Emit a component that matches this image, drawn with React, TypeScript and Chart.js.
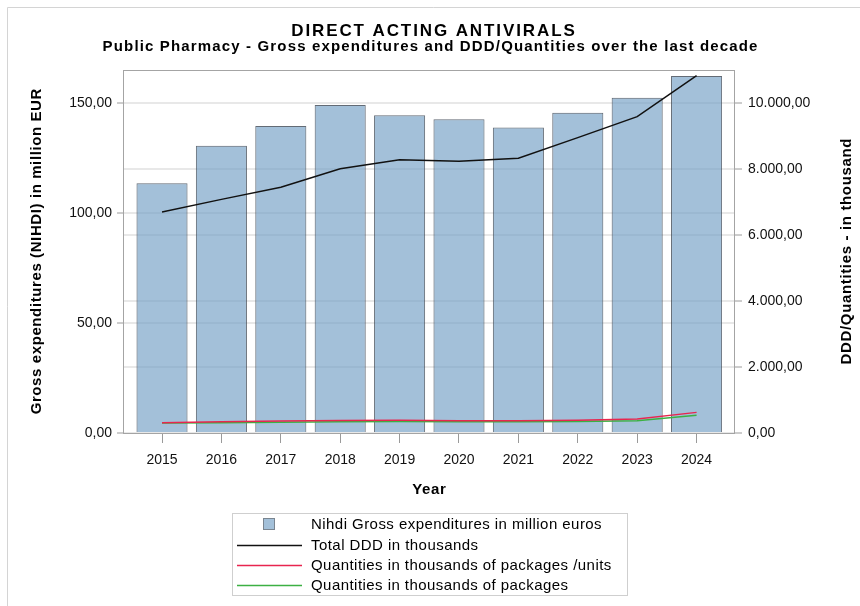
import React, { useEffect, useRef } from 'react';
import { Chart, registerables } from 'chart.js';

Chart.register(...registerables);

// ---------- data ----------
const years = [2015, 2016, 2017, 2018, 2019, 2020, 2021, 2022, 2023, 2024];
const grossExpenditures = [113.5, 130.6, 139.5, 149.1, 144.4, 142.6, 138.9, 145.6, 152.4, 162.3];
const totalDDD = [6700, 7080, 7445, 8010, 8280, 8235, 8325, 8950, 9585, 10830];
const qtyPackagesUnits = [310, 340, 360, 380, 385, 375, 375, 390, 425, 625];
const qtyPackages = [300, 310, 325, 340, 345, 340, 340, 350, 370, 535];
const leftTicks = [0, 50, 100, 150];
const rightTicks = [0, 2000, 4000, 6000, 8000, 10000];
const seriesLabels = [
  'Nihdi Gross expenditures in million euros',
  'Total DDD in thousands',
  'Quantities in thousands of packages /units',
  'Quantities in thousands of packages',
];
const titleText = 'DIRECT ACTING ANTIVIRALS';
const subtitleText = 'Public Pharmacy - Gross expenditures and DDD/Quantities over the last decade';
const xTitle = 'Year';
const leftTitle = 'Gross expenditures (NIHDI) in million EUR';
const rightTitle = 'DDD/Quantities - in thousand';

const FONT = '"Liberation Sans", Arial, Helvetica, sans-serif';
const BAR_FILL = 'rgba(110,155,195,0.63)';
const BAR_BORDER = 'rgba(60,70,82,0.8)';
const BLACK = '#111111';
const RED = '#e8254f';
const GREEN = '#3cb043';

function fmt(v: number): string {
  const fixed = Math.abs(v).toFixed(2);
  const parts = fixed.split('.');
  const intPart = parts[0].replace(/\B(?=(\d{3})+(?!\d))/g, '.');
  return (v < 0 ? '-' : '') + intPart + ',' + parts[1];
}

function drawText(ctx: CanvasRenderingContext2D, text: string, x: number, y: number, font: string, spacing: number, align: CanvasTextAlign, rotate = 0) {
  ctx.save();
  ctx.font = font;
  (ctx as any).letterSpacing = spacing + 'px';
  ctx.fillStyle = '#000';
  ctx.textAlign = align;
  ctx.textBaseline = 'middle';
  ctx.translate(x, y);
  if (rotate) ctx.rotate(rotate);
  ctx.fillText(text, align === 'center' ? spacing / 2 : 0, 0);
  ctx.restore();
}

const decorPlugin = {
  id: 'decor',
  beforeDraw(chart: any) {
    const ctx: CanvasRenderingContext2D = chart.ctx;
    ctx.save();
    ctx.fillStyle = '#ffffff';
    ctx.fillRect(0, 0, chart.width, chart.height);
    ctx.strokeStyle = '#d4d4d4';
    ctx.lineWidth = 1;
    ctx.beginPath();
    ctx.moveTo(7.5, chart.height);
    ctx.lineTo(7.5, 7.5);
    ctx.lineTo(chart.width, 7.5);
    ctx.stroke();
    ctx.restore();
  },
  afterDraw(chart: any) {
    const ctx: CanvasRenderingContext2D = chart.ctx;
    const a = chart.chartArea;
    // plot frame
    ctx.save();
    ctx.strokeStyle = '#a4a4a4';
    ctx.lineWidth = 1;
    ctx.strokeRect(Math.round(a.left) - 0.5, Math.round(a.top) + 0.5, Math.round(a.right - a.left) + 1, Math.round(a.bottom - a.top));
    ctx.restore();

    const cx = chart.width / 2;
    const cy = (a.top + a.bottom) / 2;
    drawText(ctx, titleText, cx + 3, 31, 'bold 17px ' + FONT, 1.9, 'center');
    drawText(ctx, subtitleText, cx, 47, 'bold 15px ' + FONT, 1.15, 'center');
    drawText(ctx, leftTitle, 37, cy, 'bold 15px ' + FONT, 0.6, 'center', -Math.PI / 2);
    drawText(ctx, rightTitle, 847, cy, 'bold 15px ' + FONT, 0.65, 'center', -Math.PI / 2);
    drawText(ctx, xTitle, (a.left + a.right) / 2, 490, 'bold 15px ' + FONT, 0.6, 'center');

    // legend
    const bx = 232, by = 513, bw = 395, bh = 82;
    ctx.save();
    ctx.strokeStyle = '#cfcfcf';
    ctx.lineWidth = 1;
    ctx.strokeRect(bx + 0.5, by + 0.5, bw, bh);
    ctx.restore();
    const rows = [524, 545, 565, 585];
    const ds = chart.data.datasets;
    ds.forEach((d: any, i: number) => {
      const y = rows[i];
      ctx.save();
      if (i === 0) {
        ctx.fillStyle = d.backgroundColor;
        ctx.fillRect(263, y - 6, 12, 12);
        ctx.strokeStyle = '#7a8590';
        ctx.lineWidth = 1;
        ctx.strokeRect(263.5, y - 5.5, 11, 11);
      } else {
        ctx.strokeStyle = d.borderColor;
        ctx.lineWidth = 1.5;
        ctx.beginPath();
        ctx.moveTo(237, y + 0.5);
        ctx.lineTo(302, y + 0.5);
        ctx.stroke();
      }
      ctx.restore();
      drawText(ctx, d.label, 311, y + 1, '15px ' + FONT, 0.45, 'left');
    });
  },
};

export default function App() {
  const ref = useRef<HTMLCanvasElement | null>(null);

  useEffect(() => {
    if (!ref.current) return;
    const tickFont = { family: FONT, size: 14 };
    const chart = new Chart(ref.current, {
      type: 'bar',
      data: {
        labels: years,
        datasets: [
          {
            type: 'bar',
            label: seriesLabels[0],
            data: grossExpenditures,
            yAxisID: 'y',
            backgroundColor: BAR_FILL,
            borderColor: BAR_BORDER,
            borderWidth: 1,
            barPercentage: 0.86,
            categoryPercentage: 1,
            order: 1,
          } as any,
          {
            type: 'line',
            label: seriesLabels[1],
            data: totalDDD,
            yAxisID: 'y2',
            borderColor: BLACK,
            backgroundColor: BLACK,
            borderWidth: 1.5,
            pointRadius: 0,
            tension: 0,
            fill: false,
            order: 0,
          } as any,
          {
            type: 'line',
            label: seriesLabels[2],
            data: qtyPackagesUnits,
            yAxisID: 'y2',
            borderColor: RED,
            backgroundColor: RED,
            borderWidth: 1.5,
            pointRadius: 0,
            tension: 0,
            fill: false,
            order: 0,
          } as any,
          {
            type: 'line',
            label: seriesLabels[3],
            data: qtyPackages,
            yAxisID: 'y2',
            borderColor: GREEN,
            backgroundColor: GREEN,
            borderWidth: 1.5,
            pointRadius: 0,
            tension: 0,
            fill: false,
            order: 0,
          } as any,
        ],
      },
      options: {
        responsive: false,
        animation: false,
        devicePixelRatio: 1,
        layout: { padding: { top: 70, bottom: 103, left: 0, right: 0 } },
        plugins: {
          legend: { display: false },
          title: { display: false },
          tooltip: { enabled: false },
        },
        scales: {
          x: {
            type: 'linear',
            offset: false,
            min: 2014.36,
            max: 2024.63,
            afterBuildTicks: (s: any) => {
              s.ticks = years.map((v) => ({ value: v }));
            },
            afterFit: (s: any) => {
              s.height = 70;
            },
            grid: { offset: false, drawOnChartArea: false, tickLength: 10, tickColor: '#9a9a9a', tickWidth: 1, color: '#9a9a9a' },
            border: { display: false },
            ticks: {
              padding: 9,
              font: tickFont,
              color: '#111',
              autoSkip: false,
              maxRotation: 0,
              callback: (v: any) => String(v),
            },
          },
          y: {
            position: 'left',
            min: 0,
            max: 165,
            afterBuildTicks: (s: any) => {
              s.ticks = leftTicks.map((v) => ({ value: v }));
            },
            afterFit: (s: any) => {
              s.width = 124;
            },
            grid: { color: '#e8e8e8', lineWidth: 2, tickLength: 7, tickColor: '#9a9a9a', tickWidth: 1 },
            border: { display: false },
            ticks: { padding: 5, font: tickFont, color: '#111', callback: (v: any) => fmt(Number(v)) },
          },
          y2: {
            position: 'right',
            min: 0,
            max: 11000,
            afterBuildTicks: (s: any) => {
              s.ticks = rightTicks.map((v) => ({ value: v }));
            },
            afterFit: (s: any) => {
              s.width = 126;
            },
            grid: { color: '#e8e8e8', lineWidth: 2, tickLength: 8, tickColor: '#9a9a9a', tickWidth: 1 },
            border: { display: false },
            ticks: { padding: 6, font: tickFont, color: '#111', callback: (v: any) => fmt(Number(v)) },
          },
        },
      } as any,
      plugins: [decorPlugin],
    });
    return () => chart.destroy();
  }, []);

  return (
    <div style={{ position: 'absolute', left: 0, top: 0, width: 860, height: 606 }}>
      <canvas ref={ref} width={860} height={606} style={{ display: 'block', width: 860, height: 606 }} />
    </div>
  );
}
